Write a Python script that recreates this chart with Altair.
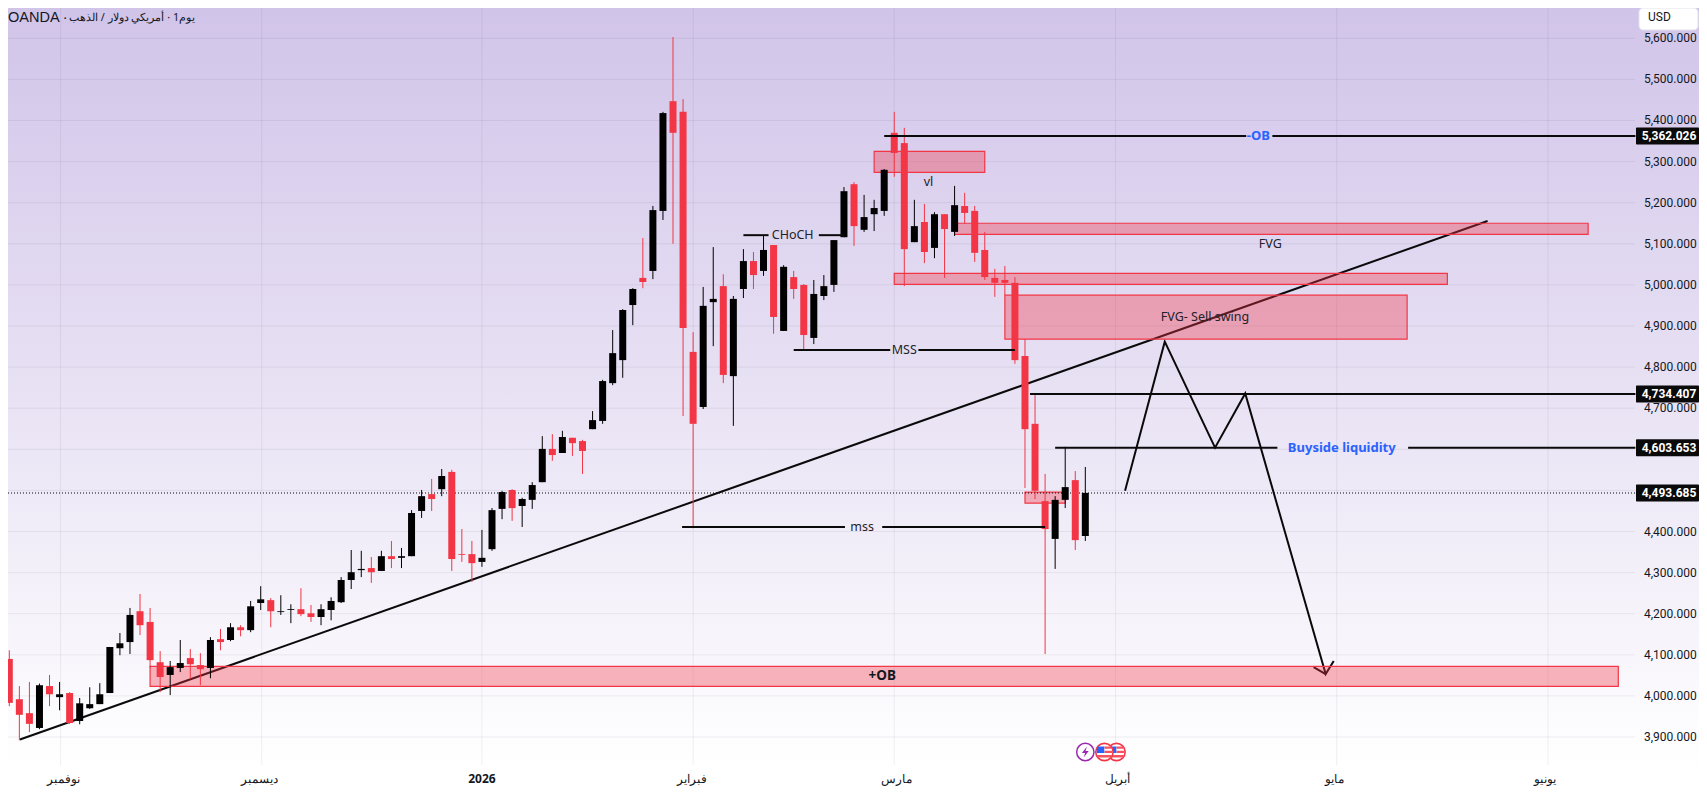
import altair as alt
import pandas as pd

# ---- candle data (trading-day index order) ----
opens = [4090,3992,3958,3922,4024,3997,4007,3939,3970,3980,4007,4116,4131,4206,4180,4082,4051,4068,4092,4075,
         4068,4138,4136,4167,4160,4226,4233,4204,4209,4211,4201,4192,4209,4228,4282,4306,4311,4304,4340,4336,
         4340,4450,4491,4503,4545,4345,4345,4326,4357,4455,4501,4462,4477,4520,4601,4591,4628,4620,4649,4669,
         4761,4817,4951,5017,5034,5180,5447,5421,4837,4703,4958,4997,4778,4990,5058,5034,5097,4888,5019,5000,
         4871,4973,5000,5116,5245,5134,5172,5180,5370,5345,5104,5153,5090,5172,5129,5192,5180,5085,5017,5012,
         5005,4827,4662,4474,4382,4477,4525,4389]
highs = [4111,4024,4034,4030,4051,4034,4009,3995,4021,4031,4119,4153,4214,4248,4214,4109,4085,4136,4114,4104,
         4143,4163,4177,4172,4231,4267,4238,4245,4223,4262,4221,4223,4240,4289,4355,4353,4338,4353,4377,4360,
         4452,4501,4528,4552,4550,4406,4377,4404,4457,4499,4503,4482,4520,4632,4637,4645,4628,4623,4693,4769,
         4890,4941,4992,5114,5192,5421,5603,5452,4885,4995,5092,5026,4973,5087,5080,5121,5097,5048,5034,5002,
         5012,5024,5109,5238,5250,5219,5207,5282,5421,5382,5207,5197,5177,5172,5241,5224,5192,5129,5039,5046,
         5019,4868,4736,4540,4486,4606,4547,4557]
lows = [3975,3892,3912,3919,3975,3965,3932,3931,3968,3980,4007,4099,4102,4148,4069,4009,4002,4058,4041,4026,
        4043,4111,4133,4145,4155,4209,4167,4197,4177,4194,4180,4172,4184,4226,4260,4289,4275,4304,4311,4311,
        4340,4433,4450,4486,4304,4326,4277,4314,4353,4430,4426,4411,4455,4520,4572,4591,4584,4540,4649,4662,
        4756,4774,4902,4992,5014,5158,5100,4681,4408,4698,4851,4761,4657,4968,4990,5022,4881,4888,4966,4842,
        4856,4963,4983,5116,5095,5129,5131,5168,5263,4997,5104,5053,5065,5017,5119,5150,5056,5012,4971,4975,
        4808,4506,4479,4102,4309,4457,4355,4377]
closes = [3983,3954,3932,4026,4004,4004,3934,3982,3980,4004,4119,4128,4197,4172,4087,4046,4070,4080,4077,4065,
          4136,4131,4167,4160,4218,4235,4206,4206,4211,4199,4192,4211,4231,4282,4301,4309,4301,4340,4333,4340,
          4445,4486,4479,4535,4333,4343,4323,4336,4452,4496,4457,4479,4513,4601,4586,4630,4615,4596,4671,4766,
          4834,4939,4990,5007,5182,5418,5370,4895,4662,4949,4966,4781,4966,5058,5024,5085,4922,5044,4990,4878,
          4978,4997,5109,5228,5143,5165,5187,5280,5321,5087,5143,5080,5172,5136,5194,5175,5078,5019,5005,5005,
          4817,4649,4499,4406,4477,4508,4379,4494]

# ---- axes ----
price_grid = [3900,4000,4100,4200,4300,4400,4500,4600,4700,4800,4900,5000,5100,5200,5300,5400,5500,5600]
price_labels = [3900,4000,4100,4200,4300,4400,4700,4800,4900,5000,5100,5200,5300,5400,5500,5600]
month_ticks = [5.1,25.1,47,68,88,110,132,153]
month_names = ["نوفمبر","ديسمبر","2026","فبراير","مارس","أبريل","مايو","يونيو"]
month_label_x = [5.4,24.9,47,67.9,88.2,110.2,131.8,152.7]

# ---- drawings ----
zones = [  # x1, x2, top, bottom
    (14,160,4072,4023),(99,139,4975,4868),(88,143,5028,5001.5),
    (94,157,5150,5123),(86,97,5325,5274),(101,105,4496,4469)]
h_segments = [  # x1, x2, price
    (87,123,5362.026),(125.6,161.7,5362.026),
    (101.5,161.7,4734.407),
    (104,126.1,4603.653),(139.1,161.7,4603.653),
    (73,75.5,5121),(80.5,83,5121),
    (78,87.6,4841.6),(90.4,100,4841.6),
    (66.9,83.1,4411),(86.8,103,4411)]
paths = [  # group, x, price
    ("trend",1.06,3894),("trend",147,5155.5),
    ("move",110.95,4499),("move",114.9,4862),("move",119.9,4604),("move",122.9,4736),("move",130.9,4053),("move",131.7,4085),
    ("head",129.7,4070),("head",130.9,4053)]
blue_labels = [("-OB",124.2,5362),("Buyside liquidity",132.5,4603.6)]
dark_labels = [("CHoCH",77.9,5121),("MSS",89,4841.6),("mss",84.8,4411),("vl",91.4,5250),
               ("FVG",125.4,5100),("FVG- Sell swing",118.9,4922)]
price_tags = [5362.026,4734.407,4603.653,4493.685]
last_price = [4493.685]
event_x = {"bolt":107.0,"us2":110.1,"us1":108.9}

W, H = 1627, 757
FULL_W, FULL_H = 1691, 785
FONT = "Noto Sans"
RED = "#f23645"

xs = alt.Scale(domain=[-0.129,161.66], nice=False, zero=False, padding=0)
ys = alt.Scale(domain=[3831.9,5673.7], nice=False, zero=False, padding=0)
X = lambda f: alt.X(f, type="quantitative", scale=xs, axis=None)
Y = lambda f: alt.Y(f, type="quantitative", scale=ys, axis=None)

df = pd.DataFrame({"i":range(len(opens)),"o":opens,"h":highs,"l":lows,"c":closes})
df["dir"] = ["down" if c<o else "up" for o,c in zip(opens,closes)]
col = alt.Color("dir:N", scale=alt.Scale(domain=["up","down"],range=["#000000",RED]), legend=None)
one = alt.Data(values=[{}])

bg = alt.Chart(one).mark_rect(
    color=alt.Gradient(gradient="linear",x1=0,x2=0,y1=0,y2=1,
        stops=[alt.GradientStop(color="#d1c4e9",offset=0),alt.GradientStop(color="#ffffff",offset=0.97),alt.GradientStop(color="#ffffff",offset=1)])
).encode(x=alt.value(0),x2=alt.value(FULL_W),y=alt.value(0),y2=alt.value(FULL_H))

grid_color = "#2a2e39"
hgrid = alt.Chart(pd.DataFrame({"p":price_grid})).mark_rule(color=grid_color,opacity=0.07,strokeWidth=1).encode(
    y=Y("p"),x=alt.value(0),x2=alt.value(W))
vgrid = alt.Chart(pd.DataFrame({"t":month_ticks})).mark_rule(color=grid_color,opacity=0.07,strokeWidth=1).encode(
    x=X("t"),y=alt.value(0),y2=alt.value(H))

pdf = pd.DataFrame(paths,columns=["g","x","p"])
pdf["o"] = range(len(pdf))
lines = alt.Chart(pdf).mark_line(color="#0a0a0a",strokeWidth=2).encode(
    x=X("x"),y=Y("p"),detail="g:N",order="o:Q")

zdf = pd.DataFrame(zones,columns=["x1","x2","t","b"])
zrect = alt.Chart(zdf).mark_rect(fill=RED,fillOpacity=0.36,stroke=RED,strokeWidth=1.2,strokeOpacity=1).encode(
    x=X("x1"),x2="x2:Q",y=Y("t"),y2="b:Q")

lastline = alt.Chart(pd.DataFrame({"p":last_price})).mark_rule(color="#000000",strokeDash=[1,2],strokeWidth=1).encode(
    y=Y("p"),x=alt.value(0),x2=alt.value(W))

wicks = alt.Chart(df).mark_rule(strokeWidth=1).encode(x=X("i"),y=Y("l"),y2="h:Q",color=col)
bodies = alt.Chart(df).mark_bar(size=7,strokeWidth=0).encode(x=X("i"),y=Y("o"),y2="c:Q",color=col)

hdf = pd.DataFrame(h_segments,columns=["x1","x2","p"])
hlines = alt.Chart(hdf).mark_rule(color="#0a0a0a",strokeWidth=2).encode(x=X("x1"),x2="x2:Q",y=Y("p"))

bdf = pd.DataFrame(blue_labels,columns=["t","x","p"])
blue = alt.Chart(bdf).mark_text(font=FONT,fontSize=13,fontWeight="bold",color="#2962ff").encode(x=X("x"),y=Y("p"),text="t:N")
ddf = pd.DataFrame(dark_labels,columns=["t","x","p"])
dark = alt.Chart(ddf).mark_text(font=FONT,fontSize=12.5,color="#22222a").encode(x=X("x"),y=Y("p"),text="t:N")
ob = alt.Chart(pd.DataFrame({"t":["+OB"],"x":[86.8],"p":[4048]})).mark_text(font=FONT,fontSize=13.5,fontWeight="bold",color="#131722").encode(
    x=X("x"),y=Y("p"),text="t:N")

# price-axis labels and time-axis labels
ydf = pd.DataFrame({"p":price_labels})
ydf["t"] = [f"{v:,.3f}" for v in price_labels]
ylab = alt.Chart(ydf).mark_text(font="Roboto",fontSize=12,align="left",color="#131722").encode(
    x=alt.value(W+9),y=Y("p"),text="t:N")
mdf = pd.DataFrame({"x":month_label_x,"t":month_names})
mnorm = alt.Chart(mdf[mdf["t"]!="2026"]).mark_text(font=FONT,fontSize=12,color="#131722").encode(
    x=X("x"),y=alt.value(H+14),text="t:N")
mbold = alt.Chart(mdf[mdf["t"]=="2026"]).mark_text(font=FONT,fontSize=12,fontWeight="bold",color="#131722").encode(
    x=X("x"),y=alt.value(H+14),text="t:N")

tdf = pd.DataFrame({"p":price_tags})
tdf["p1"] = tdf["p"]+20.7
tdf["p2"] = tdf["p"]-20.7
tdf["t"] = [f"{v:,.3f}" for v in price_tags]
tag_rect = alt.Chart(tdf).mark_rect(color="#0a0a0a",cornerRadius=1).encode(
    x=alt.value(W+1),x2=alt.value(W+64),y=Y("p1"),y2="p2:Q")
tag_text = alt.Chart(tdf).mark_text(font="Roboto",fontSize=12,fontWeight="bold",color="#ffffff").encode(
    x=alt.value(W+34),y=Y("p"),text="t:N")

header1 = alt.Chart(pd.DataFrame({"t":["OANDA ·"]})).mark_text(
    font="Liberation Sans",fontSize=14.5,align="left",color="#131722").encode(x=alt.value(0),y=alt.value(10),text="t:N")
header2 = alt.Chart(pd.DataFrame({"t":["\u200eالذهب\u200e / \u200eدولار\u200e \u200eأمريكي\u200e · \u200eيوم1"]})).mark_text(
    font=FONT,fontSize=10.8,align="left",color="#131722").encode(x=alt.value(61),y=alt.value(10),text="t:N")

usd_box = alt.Chart(one).mark_rect(fill="#ffffff",stroke="#e0e3eb",strokeWidth=1,cornerRadius=4).encode(
    x=alt.value(W+4),x2=alt.value(W+63),y=alt.value(0),y2=alt.value(22))
usd_txt = alt.Chart(pd.DataFrame({"t":["USD"]})).mark_text(font="Roboto",fontSize=12,align="left",color="#131722").encode(
    x=alt.value(W+13),y=alt.value(9),text="t:N")

def ev(key, **mark):
    return alt.Chart(pd.DataFrame({"x":[event_x[key]]})).mark_point(**mark).encode(x=X("x"),y=alt.value(744))

bolt_path = "M0.18,-0.62L-0.38,0.12H-0.02L-0.18,0.62L0.38,-0.12H0.02Z"
icons = [ev("bolt",shape="circle",size=300,filled=False,fill="#ffffff",fillOpacity=1,stroke="#9c27b0",strokeWidth=1.5,opacity=1),
         ev("bolt",shape=bolt_path,size=320,filled=True,fill="#9c27b0",stroke=None,opacity=1)]
stripes = "M0,-0.62H0.75V-0.36H0Z M0,-0.14H0.9V0.12H0Z M-0.8,0.34H0.8V0.6H-0.8Z"
blue_q = "M-0.72,-0.62H-0.02V0.1H-0.85V-0.3Z"
for k in ("us2","us1"):
    icons += [ev(k,shape="circle",size=300,filled=False,fill="#ffffff",fillOpacity=1,stroke=RED,strokeWidth=1.6,opacity=1),
              ev(k,shape=stripes,size=324,filled=True,fill="#f7525f",stroke=None,opacity=1),
              ev(k,shape=blue_q,size=324,filled=True,fill="#2962ff",stroke=None,opacity=1)]

chart = alt.layer(bg,hgrid,vgrid,lines,zrect,lastline,wicks,bodies,hlines,blue,dark,ob,ylab,mnorm,mbold,tag_rect,tag_text,header1,header2,usd_box,usd_txt,*icons).properties(
    width=W,height=H,padding={"left":0,"top":0,"right":FULL_W-W,"bottom":FULL_H-H},
    autosize=alt.AutoSizeParams(type="none")
).configure_view(stroke=None)

chart.save("out.html", embed_options={"renderer": "svg", "actions": False})
